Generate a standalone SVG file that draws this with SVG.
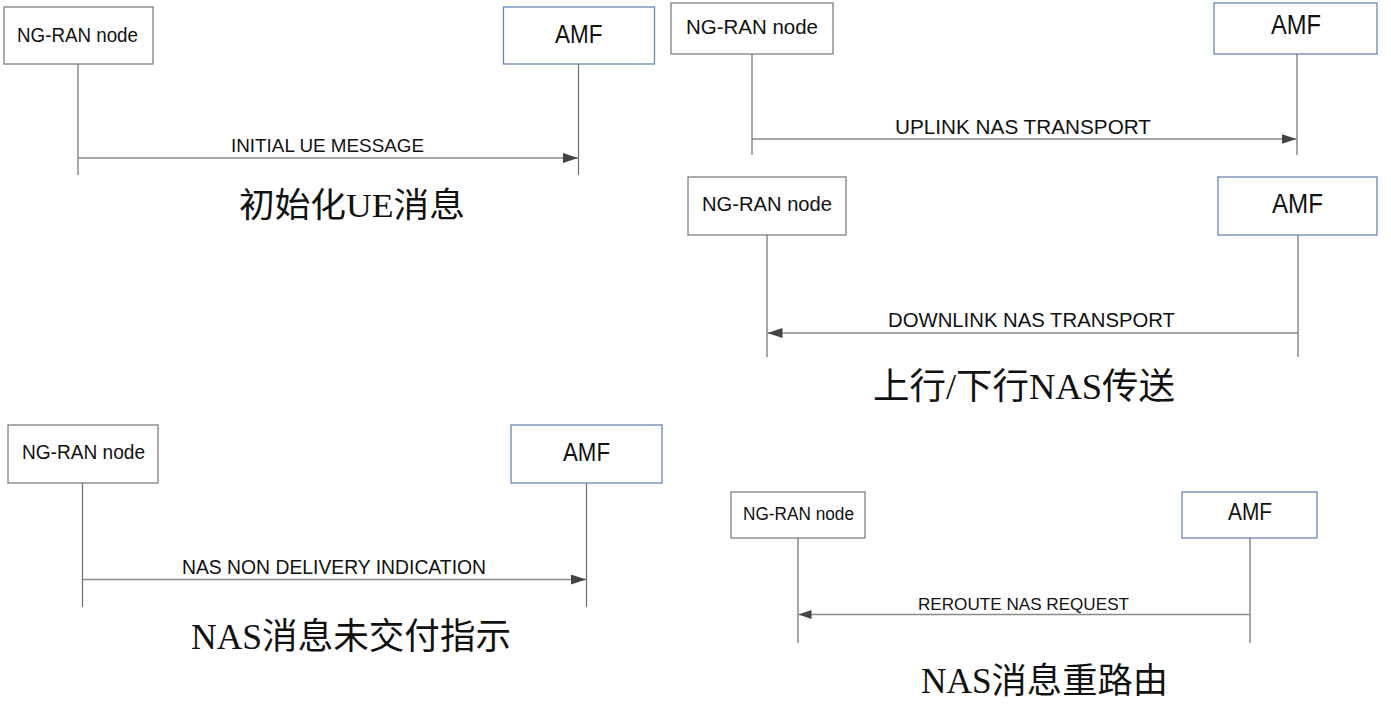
<svg xmlns="http://www.w3.org/2000/svg" width="1391" height="713" viewBox="0 0 1391 713">
<defs>
<marker id="ah" markerUnits="userSpaceOnUse" markerWidth="16" markerHeight="11" refX="15" refY="5" orient="auto">
<path d="M0,0 L15,5 L0,10 z" fill="#444"/>
</marker>
<marker id="ahs" markerUnits="userSpaceOnUse" markerWidth="14" markerHeight="10" refX="13" refY="4.5" orient="auto">
<path d="M0,0 L13,4.5 L0,9 z" fill="#444"/>
</marker>
</defs>
<style>
.box{fill:#fff;stroke:#808080;stroke-width:1.3}
.amf{fill:#fff;stroke:#6b86b8;stroke-width:1.3}
.life{stroke:#6e6e6e;stroke-width:1.2;fill:none}
.msg{stroke:#8a8a8a;stroke-width:1.6;fill:none;marker-end:url(#ah)}
.msgs{stroke:#8a8a8a;stroke-width:1.4;fill:none;marker-end:url(#ahs)}
.t{font-family:"Liberation Sans",Arial,sans-serif;fill:#111}
.cap{font-family:"Liberation Serif","Noto Sans CJK SC",serif;fill:#111}
</style>
<rect width="1391" height="713" fill="#fff"/>

<!-- Panel 1: INITIAL UE MESSAGE -->
<g id="ran1"><rect class="box" x="4" y="7" width="149" height="57"/><text class="t" x="17" y="42" font-size="20" textLength="121" lengthAdjust="spacingAndGlyphs">NG-RAN node</text></g>
<g id="amf1"><rect class="amf" x="503.5" y="7" width="151" height="57"/><text class="t" x="555" y="43.3" font-size="26" textLength="47.5" lengthAdjust="spacingAndGlyphs">AMF</text></g>
<g id="cap1"><text class="cap" x="239" y="217" font-size="34" textLength="226" lengthAdjust="spacingAndGlyphs">初始化UE消息</text></g>

<!-- Panel 2: UPLINK -->
<g id="ran2"><rect class="box" x="671" y="3" width="162" height="51"/><text class="t" x="686" y="34" font-size="21" textLength="132" lengthAdjust="spacingAndGlyphs">NG-RAN node</text></g>
<g id="amf2"><rect class="amf" x="1214" y="3" width="163" height="51"/><text class="t" x="1271" y="34" font-size="27" textLength="50" lengthAdjust="spacingAndGlyphs">AMF</text></g>

<!-- Panel 3: DOWNLINK -->
<g id="ran3"><rect class="box" x="688" y="177" width="158" height="58"/><text class="t" x="702" y="211" font-size="21" textLength="130" lengthAdjust="spacingAndGlyphs">NG-RAN node</text></g>
<g id="amf3"><rect class="amf" x="1218" y="177" width="159" height="58"/><text class="t" x="1272" y="213" font-size="27" textLength="51" lengthAdjust="spacingAndGlyphs">AMF</text></g>
<g id="cap3"><text class="cap" x="873" y="399" font-size="36" textLength="302" lengthAdjust="spacingAndGlyphs">上行/下行NAS传送</text></g>

<!-- Panel 4: NAS NON DELIVERY -->
<g id="ran4"><rect class="box" x="8" y="425" width="150" height="58"/><text class="t" x="22" y="459" font-size="20" textLength="123" lengthAdjust="spacingAndGlyphs">NG-RAN node</text></g>
<g id="amf4"><rect class="amf" x="511" y="425" width="151" height="58"/><text class="t" x="563" y="461" font-size="26" textLength="47" lengthAdjust="spacingAndGlyphs">AMF</text></g>
<g id="cap4"><text class="cap" x="191" y="649" font-size="36" textLength="320" lengthAdjust="spacingAndGlyphs">NAS消息未交付指示</text></g>

<!-- Panel 5: REROUTE -->
<g id="ran5"><rect class="box" x="731" y="492" width="134" height="46"/><text class="t" x="743" y="519.5" font-size="18" textLength="111" lengthAdjust="spacingAndGlyphs">NG-RAN node</text></g>
<g id="amf5"><rect class="amf" x="1182" y="492" width="135" height="46"/><text class="t" x="1228" y="520" font-size="24" textLength="44" lengthAdjust="spacingAndGlyphs">AMF</text></g>
<g id="cap5"><text class="cap" x="921" y="693" font-size="35" textLength="247" lengthAdjust="spacingAndGlyphs">NAS消息重路由</text></g>

<g id="connectors">
<!-- lifelines -->
<line class="life" x1="78" y1="64" x2="78" y2="175"/>
<line class="life" x1="578.5" y1="64" x2="578.5" y2="175"/>
<line class="life" x1="752" y1="54" x2="752" y2="155"/>
<line class="life" x1="1297" y1="54" x2="1297" y2="155"/>
<line class="life" x1="767" y1="235" x2="767" y2="357"/>
<line class="life" x1="1298" y1="235" x2="1298" y2="357"/>
<line class="life" x1="82.5" y1="483" x2="82.5" y2="607"/>
<line class="life" x1="586.5" y1="483" x2="586.5" y2="607"/>
<line class="life" x1="798" y1="538" x2="798" y2="643"/>
<line class="life" x1="1250" y1="538" x2="1250" y2="643"/>
<!-- messages -->
<line class="msg" x1="78" y1="158" x2="578" y2="158"/>
<text class="t" x="231" y="151.5" font-size="18.7" textLength="193" lengthAdjust="spacingAndGlyphs">INITIAL UE MESSAGE</text>
<line class="msg" x1="752" y1="139" x2="1296.5" y2="139"/>
<text class="t" x="895" y="134" font-size="20" textLength="256" lengthAdjust="spacingAndGlyphs">UPLINK NAS TRANSPORT</text>
<line class="msg" x1="1298" y1="333" x2="767.5" y2="333"/>
<text class="t" x="888" y="327" font-size="20" textLength="287" lengthAdjust="spacingAndGlyphs">DOWNLINK NAS TRANSPORT</text>
<line class="msg" x1="82.5" y1="579.5" x2="586" y2="579.5"/>
<text class="t" x="182" y="574" font-size="19.5" textLength="304" lengthAdjust="spacingAndGlyphs">NAS NON DELIVERY INDICATION</text>
<line class="msgs" x1="1250" y1="614.5" x2="798.5" y2="614.5"/>
<text class="t" x="918" y="609.5" font-size="17" textLength="211" lengthAdjust="spacingAndGlyphs">REROUTE NAS REQUEST</text>
</g>
</svg>
